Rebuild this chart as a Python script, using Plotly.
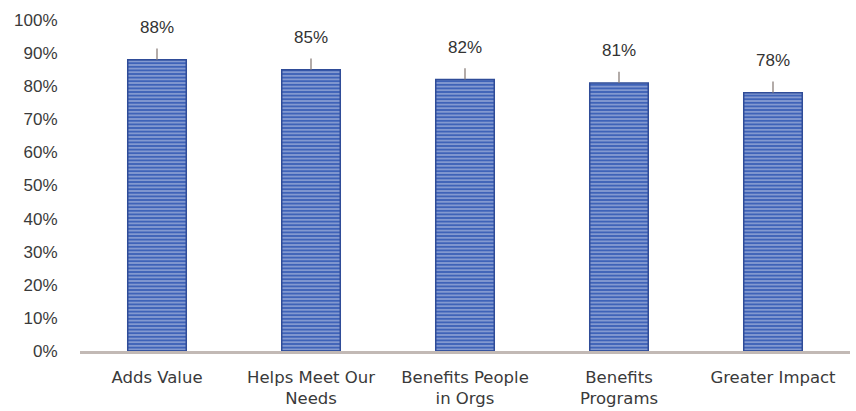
import plotly.graph_objects as go

categories = ["Adds Value", "Helps Meet Our<br>Needs", "Benefits People<br>in Orgs",
              "Benefits<br>Programs", "Greater Impact"]
values = [88, 85, 82, 81, 78]
y_ticks = list(range(0, 101, 10))
y_tick_labels = [f"{t}%" for t in y_ticks]

fig = go.Figure()

fig.add_trace(go.Bar(
    x=categories,
    y=values,
    marker=dict(
        color="#3f63b8",
        line=dict(color="#2f4c98", width=1.5),
        pattern=dict(shape="-", fgcolor="#f2f3f8", bgcolor="#3f63b8",
                     size=3.6, solidity=0.38, fillmode="overlay"),
    ),
    error_y=dict(type="data", symmetric=False, array=[3.4] * len(values),
                 arrayminus=[0] * len(values), color="#8a7f7a",
                 thickness=1.3, width=0),
    width=0.38,
    hoverinfo="skip",
))

for c, v in zip(categories, values):
    fig.add_annotation(x=c, y=v, text=f"{v}%", showarrow=False,
                       yshift=32, font=dict(size=17, color="#333333",
                                            family="Liberation Sans, Arial"))

fig.update_layout(
    width=856, height=411,
    margin=dict(l=80, r=6, t=20, b=60),
    paper_bgcolor="white", plot_bgcolor="white",
    showlegend=False,
    xaxis=dict(
        automargin=False,
        showline=True, linecolor="#c2b9b5", linewidth=3,
        ticks="outside", ticklen=9, tickcolor="rgba(0,0,0,0)",
        tickfont=dict(size=16.5, color="#3a3a3a", family="DejaVu Sans, sans-serif"),
        showgrid=False,
    ),
    yaxis=dict(
        automargin=False,
        range=[0, 100], tickvals=y_ticks, ticktext=y_tick_labels,
        showgrid=False, zeroline=False, showline=False,
        tickfont=dict(size=17, color="#3a3a3a", family="Liberation Sans, Arial"),
        ticks="outside", ticklen=18, tickcolor="rgba(0,0,0,0)",
    ),
)

fig.write_html("out.html")
